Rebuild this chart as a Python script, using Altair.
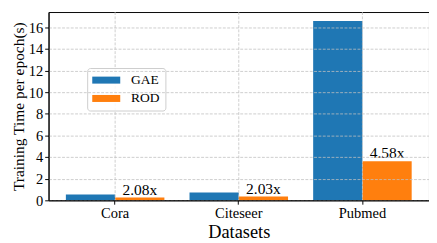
import altair as alt
import pandas as pd

datasets = ["Cora", "Citeseer", "Pubmed"]
methods = ["GAE", "ROD"]
gae_times = [0.54, 0.72, 16.6]
rod_times = [0.26, 0.355, 3.62]
speedups = ["2.08x", "2.03x", "4.58x"]
y_ticks = [0, 2, 4, 6, 8, 10, 12, 14, 16]
colors = ["#1f77b4", "#ff7f0e"]

rows = []
for d, g, r, s in zip(datasets, gae_times, rod_times, speedups):
    rows.append({"dataset": d, "method": "GAE", "time": g, "label": ""})
    rows.append({"dataset": d, "method": "ROD", "time": r, "label": s})
df = pd.DataFrame(rows)
df_cat = pd.DataFrame({"dataset": datasets})

FONT = "Liberation Serif"
GRID = "#c0c0c0"

x_axis = alt.Axis(
    labelAngle=0, grid=False, zindex=1, labelOverlap=False,
    labelFontSize=15, titleFontSize=19, labelPadding=2, titlePadding=2,
)
x_scale = alt.Scale(paddingInner=0.203, paddingOuter=0.14)
x_enc = alt.X("dataset:N", sort=datasets, title="Datasets", scale=x_scale, axis=x_axis)
y_enc = alt.Y(
    "time:Q",
    title="Training Time per epoch(s)",
    scale=alt.Scale(domain=[0, 17.43], nice=False, zero=True),
    axis=alt.Axis(values=y_ticks, grid=True, zindex=1, labelOverlap=False,
                  labelFontSize=15, titleFontSize=16, labelPadding=2, titlePadding=2),
)
xo_enc = alt.XOffset("method:N", sort=methods, scale=alt.Scale(paddingInner=0, paddingOuter=0))

bars = alt.Chart(df).mark_bar(size=51, stroke=None).encode(
    x=x_enc,
    xOffset=xo_enc,
    y=y_enc,
    color=alt.Color(
        "method:N",
        sort=methods,
        scale=alt.Scale(domain=methods, range=colors),
        legend=alt.Legend(
            title=None, orient="none", legendX=40, legendY=58,
            fillColor="rgba(255,255,255,0.85)", strokeColor="#cccccc",
            cornerRadius=3, padding=5,
            symbolType="M-1,-0.5H3V0.5H-1Z", symbolSize=210,
            symbolStrokeWidth=0, symbolOpacity=1,
            labelFont=FONT, labelFontSize=14, labelOffset=25.5, rowPadding=4,
        ),
    ),
)

vgrid = alt.Chart(df_cat).mark_rule(
    color=GRID, strokeDash=[3, 1.5], strokeWidth=0.8
).encode(
    x=alt.X("dataset:N", sort=datasets),
)

texts = alt.Chart(df).mark_text(baseline="bottom", align="center", fontSize=16, font=FONT).encode(
    x=x_enc,
    xOffset=xo_enc,
    y=y_enc,
    text="label:N",
)

chart = alt.layer(bars, vgrid, texts).properties(
    width=394, height=195,
    autosize=alt.AutoSizeParams(type="none"),
    padding={"left": 42, "top": 0, "right": 0, "bottom": 40},
).configure(
    font=FONT,
).configure_axis(
    labelFont=FONT, titleFont=FONT, labelColor="black", titleColor="black",
    titleFontWeight="normal", domainColor="black", tickColor="black",
    tickSize=4, gridColor=GRID, gridDash=[3, 1.5], gridWidth=0.8,
    domainWidth=1,
).configure_view(
    stroke="black", strokeWidth=1,
)

chart.save("out.html", embed_options={"renderer": "svg", "actions": False})
